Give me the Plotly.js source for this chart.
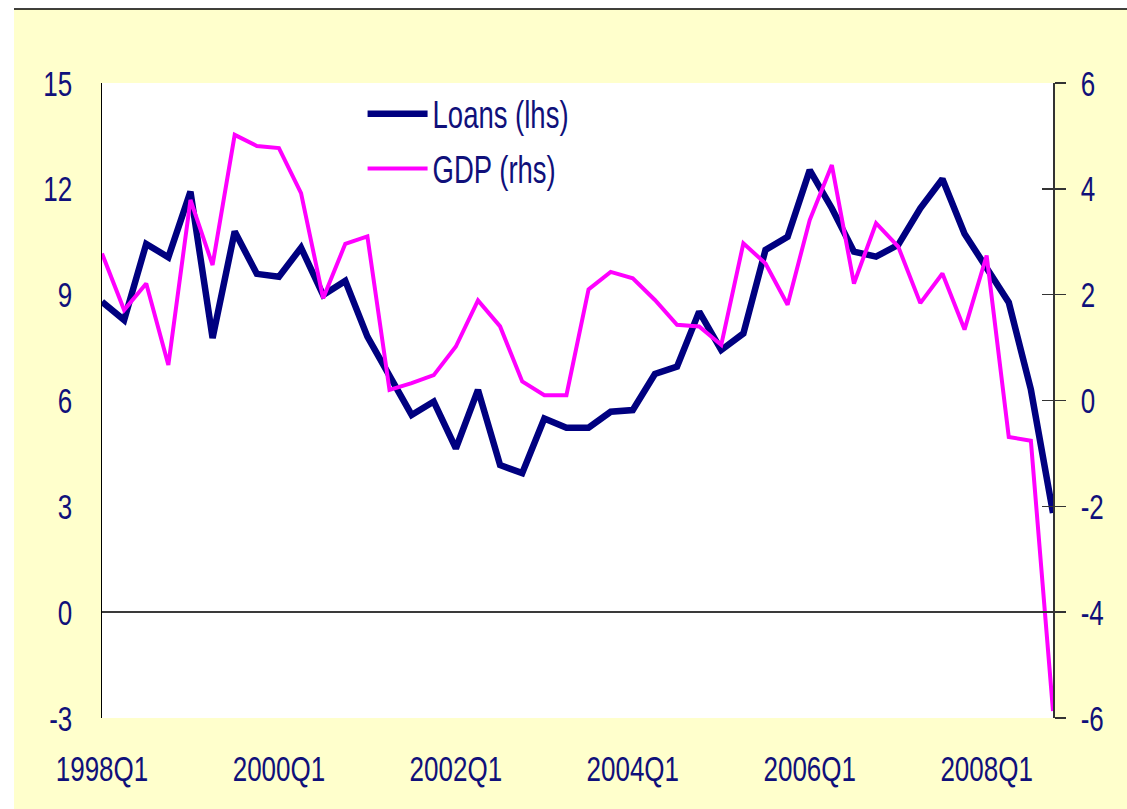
<!DOCTYPE html>
<html>
<head>
<meta charset="utf-8">
<script src="https://cdn.plot.ly/plotly-3.0.1.min.js"></script>
<style>
  html, body { margin: 0; padding: 0; background: #ffffff; }
  #chart { width: 1127px; height: 809px; }
</style>
</head>
<body>
<div id="chart"></div>
<script>
const quarters = [
  "1998Q1","1998Q2","1998Q3","1998Q4",
  "1999Q1","1999Q2","1999Q3","1999Q4",
  "2000Q1","2000Q2","2000Q3","2000Q4",
  "2001Q1","2001Q2","2001Q3","2001Q4",
  "2002Q1","2002Q2","2002Q3","2002Q4",
  "2003Q1","2003Q2","2003Q3","2003Q4",
  "2004Q1","2004Q2","2004Q3","2004Q4",
  "2005Q1","2005Q2","2005Q3","2005Q4",
  "2006Q1","2006Q2","2006Q3","2006Q4",
  "2007Q1","2007Q2","2007Q3","2007Q4",
  "2008Q1","2008Q2","2008Q3","2008Q4"
];

const loans = [
  8.80, 8.28, 10.44, 10.06, 11.92, 7.77, 10.79, 9.59,
  9.51, 10.33, 8.99, 9.39, 7.81, 6.70, 5.59, 5.97,
  4.64, 6.30, 4.17, 3.94, 5.49, 5.23, 5.23, 5.68,
  5.73, 6.75, 6.96, 8.52, 7.43, 7.90, 10.27, 10.64,
  12.53, 11.45, 10.22, 10.08, 10.41, 11.45, 12.28, 10.73,
  9.76, 8.78, 6.31, 2.81
];

const gdp = [
  2.78, 1.71, 2.21, 0.67, 3.79, 2.56, 5.02, 4.81,
  4.77, 3.92, 1.93, 2.96, 3.10, 0.20, 0.33, 0.48,
  1.02, 1.89, 1.40, 0.36, 0.10, 0.10, 2.10, 2.43,
  2.31, 1.90, 1.43, 1.40, 1.05, 2.97, 2.59, 1.81,
  3.41, 4.45, 2.21, 3.35, 2.91, 1.84, 2.40, 1.34,
  2.74, -0.69, -0.76, -5.87
];

const xTickLabels = ["1998Q1","2000Q1","2002Q1","2004Q1","2006Q1","2008Q1"];
const leftTicks = [-3, 0, 3, 6, 9, 12, 15];
const leftTickText = ["-3", "0", "3", "6", "9", "12", "15"];
const rightTicks = [-6, -4, -2, 0, 2, 4, 6];
const rightTickText = ["-6", "-4", "-2", "0", "2", "4", "6"];
const seriesNames = ["Loans (lhs)", "GDP (rhs)"];

const FONT = "Liberation Sans, Arial, sans-serif";
const TXT = "#10107a";
const TICK_SIZE = 26;
const LEG_SIZE = 27.5;

const traces = [
  {
    x: quarters, y: loans, name: seriesNames[0],
    type: "scatter", mode: "lines", yaxis: "y",
    line: { color: "#000080", width: 6.5 },
    legendgroup: "a"
  },
  {
    x: quarters, y: gdp, name: seriesNames[1],
    type: "scatter", mode: "lines", yaxis: "y2",
    line: { color: "#ff00ff", width: 4 },
    legendgroup: "b"
  },
  {
    x: [quarters[0]], y: [null], yaxis: "y3", type: "scatter", mode: "lines",
    showlegend: false, hoverinfo: "skip"
  }
];

const layout = {
  width: 1127, height: 809,
  margin: { l: 102, r: 74, t: 83, b: 91 },
  paper_bgcolor: "#ffffcc",
  plot_bgcolor: "#ffffff",
  showlegend: true,
  font: { family: FONT, size: TICK_SIZE, color: TXT },
  legend: {
    x: 0.274, xanchor: "left", y: 0.99, yanchor: "top",
    bgcolor: "rgba(0,0,0,0)",
    traceorder: "grouped", tracegroupgap: 16,
    itemwidth: 60,
    font: { family: FONT, size: LEG_SIZE, color: TXT }
  },
  xaxis: {
    type: "category",
    range: [0, quarters.length - 1],
    tickvals: xTickLabels, ticktext: xTickLabels,
    showgrid: false, zeroline: false, showline: false,
    ticks: "", ticklabelstandoff: 33,
    tickfont: { family: FONT, size: TICK_SIZE, color: TXT }
  },
  yaxis: {
    range: [-3, 15], tickvals: leftTicks, ticktext: leftTickText,
    showgrid: false,
    zeroline: true, zerolinecolor: "#3a3a3a", zerolinewidth: 1.5,
    showline: true, linecolor: "#000000", linewidth: 1.5,
    ticks: "", ticklabelstandoff: 23,
    tickfont: { family: FONT, size: TICK_SIZE, color: TXT }
  },
  yaxis2: {
    overlaying: "y", side: "right",
    range: [-6, 6], tickvals: rightTicks, ticktext: rightTickText,
    showgrid: false, zeroline: false,
    showline: true, linecolor: "#333333", linewidth: 1.5,
    ticks: "outside", ticklen: 11, tickwidth: 1.5, tickcolor: "#333333",
    ticklabelstandoff: 10,
    tickfont: { family: FONT, size: TICK_SIZE, color: TXT }
  },
  yaxis3: {
    overlaying: "y", side: "right",
    range: [-6, 6], tickvals: rightTicks, ticktext: rightTickText,
    showgrid: false, zeroline: false, showline: false,
    ticks: "inside", ticklen: 11, tickwidth: 1.5, tickcolor: "#333333",
    showticklabels: false
  },
  shapes: [
    { type: "rect", xref: "paper", yref: "paper",
      x0: -0.2, x1: -88 / 951, y0: -0.2, y1: 1.2,
      fillcolor: "#ffffff", line: { width: 0 } },
    { type: "rect", xref: "paper", yref: "paper",
      x0: -0.2, x1: 1.2, y0: 1 + 74 / 635, y1: 1.2,
      fillcolor: "#ffffff", line: { width: 0 } },
    { type: "line", xref: "paper", yref: "paper",
      x0: -88 / 951, x1: 1.2, y0: 1 + 74 / 635, y1: 1 + 74 / 635,
      line: { color: "#000000", width: 1.5 } }
  ]
};

function stretchText(gd) {
  const sel = gd.querySelectorAll(".xtick text, .ytick text, .y2tick text, .legendtext");
  sel.forEach(function (t) {
    const bb = t.getBBox();
    const c = bb.y + bb.height / 2;
    const prev = t.getAttribute("transform") || "";
    t.setAttribute("transform",
      prev + " translate(0," + c + ") scale(1,1.38) translate(0," + (-c) + ")");
  });
}

Plotly.newPlot("chart", traces, layout, { displayModeBar: false, staticPlot: true })
  .then(stretchText);
</script>
</body>
</html>
